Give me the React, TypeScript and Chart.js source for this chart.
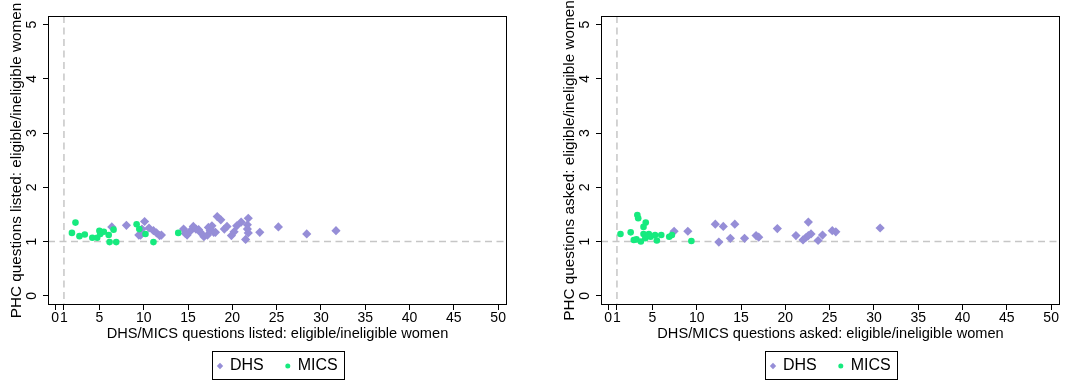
import React, { useEffect, useRef } from 'react';
import { Chart, registerables } from 'chart.js';

Chart.register(...registerables);

// ---------- data ----------
const seriesNames = ['DHS', 'MICS'];
const xTickValues = [0, 1, 5, 10, 15, 20, 25, 30, 35, 40, 45, 50];
const yTickValues = [0, 1, 2, 3, 4, 5];
const refX = 1;
const refY = 1;

const listedXTitle = 'DHS/MICS questions listed: eligible/ineligible women';
const listedYTitle = 'PHC questions listed: eligible/ineligible women';
const askedXTitle = 'DHS/MICS questions asked: eligible/ineligible women';
const askedYTitle = 'PHC questions asked: eligible/ineligible women';

const listedDHS: [number, number][] = [
  [6.4, 1.27], [8.05, 1.30], [9.45, 1.12], [9.65, 1.12], [9.8, 1.23], [10.1, 1.37], [10.6, 1.25], [11.1, 1.20],
  [11.45, 1.16], [11.8, 1.11], [12.0, 1.12],
  [14.5, 1.23], [14.7, 1.15], [14.9, 1.12], [15.3, 1.20], [15.6, 1.28], [15.9, 1.23], [16.2, 1.22],
  [16.4, 1.17], [16.8, 1.09], [17.2, 1.12], [17.3, 1.26], [17.5, 1.20], [17.7, 1.29], [17.9, 1.17],
  [18.1, 1.17], [18.3, 1.46], [18.7, 1.40], [19.1, 1.23], [19.4, 1.28], [19.9, 1.11], [20.2, 1.18],
  [20.5, 1.29], [21.0, 1.36], [21.8, 1.43], [21.7, 1.31], [21.7, 1.23], [21.8, 1.16], [21.5, 1.04],
  [23.1, 1.17], [25.2, 1.27], [28.4, 1.14], [31.7, 1.20],
];
const listedMICS: [number, number][] = [
  [1.9, 1.16], [2.3, 1.35], [2.75, 1.10], [3.35, 1.13], [4.2, 1.07], [4.75, 1.07], [5.0, 1.20],
  [5.1, 1.14], [5.5, 1.18], [6.05, 1.12], [6.6, 1.22], [6.15, 0.99], [6.9, 0.99], [9.2, 1.32],
  [9.5, 1.23], [10.2, 1.14], [11.1, 0.99], [13.9, 1.16],
];
const askedDHS: [number, number][] = [
  [7.45, 1.19], [9.0, 1.19], [12.1, 1.32], [13.0, 1.28], [14.3, 1.32], [12.5, 0.99], [13.8, 1.06],
  [15.4, 1.06], [16.7, 1.11], [17.0, 1.08], [19.1, 1.24], [21.2, 1.11], [22.6, 1.36], [22.0, 1.03],
  [22.3, 1.07], [22.6, 1.11], [22.9, 1.14], [23.7, 1.02], [24.2, 1.12], [25.3, 1.20], [25.7, 1.18],
  [30.7, 1.25],
];
const askedMICS: [number, number][] = [
  [1.4, 1.14], [2.55, 1.17], [3.3, 1.49], [3.4, 1.43], [4.25, 1.35], [4.0, 1.27], [2.9, 1.03],
  [3.2, 1.04], [3.7, 1.00], [4.0, 1.14], [4.2, 1.06], [4.6, 1.14], [4.8, 1.09], [5.3, 1.12],
  [5.5, 1.02], [6.0, 1.12], [6.9, 1.09], [7.2, 1.12], [9.4, 1.01],
];

// ---------- styles ----------
const FONT = '"Liberation Sans", Arial, Helvetica, sans-serif';
const DHS_COLOR = 'rgb(150,142,215)';
const MICS_COLOR = 'rgb(22,234,126)';
const REF_COLOR = '#c6c6c6';

const refLinesPlugin = {
  id: 'refLines',
  beforeDatasetsDraw(chart: any) {
    const { ctx, chartArea: ca, scales } = chart;
    const px = scales.x.getPixelForValue(refX);
    const py = scales.y.getPixelForValue(refY);
    ctx.save();
    ctx.strokeStyle = REF_COLOR;
    ctx.lineWidth = 1.5;
    ctx.setLineDash([7, 4.5]);
    ctx.beginPath();
    ctx.moveTo(px, ca.top);
    ctx.lineTo(px, ca.bottom);
    ctx.stroke();
    ctx.beginPath();
    ctx.moveTo(ca.left, py);
    ctx.lineTo(ca.right, py);
    ctx.stroke();
    ctx.restore();
  },
};

const frameLegendPlugin = {
  id: 'frameLegend',
  afterDraw(chart: any) {
    const { ctx, chartArea: ca } = chart;
    ctx.save();
    ctx.strokeStyle = '#000';
    ctx.lineWidth = 1;
    ctx.setLineDash([]);
    ctx.strokeRect(Math.round(ca.left) + 0.5, Math.round(ca.top) + 0.5,
      Math.round(ca.right - ca.left) - 1, Math.round(ca.bottom - ca.top) - 1);

    // legend
    ctx.font = `16px ${FONT}`;
    const ds = chart.data.datasets;
    const w0 = ctx.measureText(ds[0].label).width;
    const w1 = ctx.measureText(ds[1].label).width;
    const boxW = 8 + 10 + w0 + 24 + 10 + w1 + 6;
    const boxH = 28;
    const L = Math.round((ca.left + ca.right) / 2 - boxW / 2);
    const T = Math.round(ca.bottom + 46);
    ctx.strokeRect(L + 0.5, T + 0.5, Math.round(boxW), boxH);
    const cy = T + 15;
    const m1 = L + 8;
    ctx.fillStyle = ds[0].backgroundColor;
    ctx.beginPath();
    ctx.moveTo(m1, cy - 3.2);
    ctx.lineTo(m1 + 3.2, cy);
    ctx.lineTo(m1, cy + 3.2);
    ctx.lineTo(m1 - 3.2, cy);
    ctx.closePath();
    ctx.fill();
    ctx.fillStyle = '#000';
    ctx.textBaseline = 'middle';
    ctx.textAlign = 'left';
    const t1 = m1 + 10;
    ctx.fillText(ds[0].label, t1, cy);
    const m2 = t1 + w0 + 24;
    ctx.fillStyle = ds[1].backgroundColor;
    ctx.beginPath();
    ctx.arc(m2, cy, 2.5, 0, Math.PI * 2);
    ctx.fill();
    ctx.fillStyle = '#000';
    ctx.fillText(ds[1].label, m2 + 10, cy);
    ctx.restore();
  },
};

type Pt = [number, number];

function Panel({ dhs, mics, xTitle, yTitle, left }: { dhs: Pt[]; mics: Pt[]; xTitle: string; yTitle: string; left: number }) {
  const ref = useRef<HTMLCanvasElement | null>(null);
  useEffect(() => {
    if (!ref.current) return;
    const chart = new Chart(ref.current, {
      type: 'scatter',
      data: {
        datasets: [
          {
            label: seriesNames[0],
            data: dhs.map(([x, y]) => ({ x, y })),
            pointStyle: 'rectRot',
            pointRadius: 4.6,
            backgroundColor: DHS_COLOR,
            borderColor: DHS_COLOR,
            borderWidth: 0,
            order: 2,
          },
          {
            label: seriesNames[1],
            data: mics.map(([x, y]) => ({ x, y })),
            pointStyle: 'circle',
            pointRadius: 3.3,
            backgroundColor: MICS_COLOR,
            borderColor: MICS_COLOR,
            borderWidth: 0,
            order: 1,
          },
        ],
      },
      options: {
        animation: false,
        responsive: false,
        maintainAspectRatio: false,
        events: [],
        layout: { padding: { left: 0, top: 16, right: 21, bottom: 40 } },
        plugins: { legend: { display: false }, tooltip: { enabled: false } },
        scales: {
          x: {
            type: 'linear',
            min: -0.8,
            max: 51,
            afterBuildTicks: (s: any) => { s.ticks = xTickValues.map((v) => ({ value: v })); },
            afterFit: (s: any) => { s.height = 38; },
            ticks: {
              autoSkip: false, minRotation: 0, maxRotation: 0, padding: 0,
              color: '#000', font: { family: FONT, size: 14 },
            },
            grid: { display: true, drawOnChartArea: false, drawTicks: true, tickLength: 5, color: '#000', lineWidth: 1 },
            border: { display: false },
            title: { display: true, text: xTitle, color: '#000', font: { family: FONT, size: 14.6 }, padding: { top: 0, bottom: 0.6 } },
          },
          y: {
            type: 'linear',
            min: -0.17,
            max: 5.16,
            afterBuildTicks: (s: any) => { s.ticks = yTickValues.map((v) => ({ value: v })); },
            afterFit: (s: any) => { s.width = 48; },
            ticks: {
              autoSkip: false, minRotation: 90, maxRotation: 90, crossAlign: 'center', padding: 7,
              color: '#000', font: { family: FONT, size: 14 },
            },
            grid: { display: true, drawOnChartArea: false, drawTicks: true, tickLength: 5, color: '#000', lineWidth: 1 },
            border: { display: false },
            title: { display: true, text: yTitle, color: '#000', font: { family: FONT, size: 15.3 }, padding: { top: 7.5, bottom: 0 } },
          },
        },
      } as any,
      plugins: [refLinesPlugin, frameLegendPlugin],
    });
    return () => chart.destroy();
  }, []);
  return (
    <canvas
      ref={ref}
      width={528}
      height={383}
      style={{ position: 'absolute', left, top: 0, width: 528, height: 383, display: 'block' }}
    />
  );
}

export default function App() {
  return (
    <div style={{ position: 'absolute', left: 0, top: 0, width: 1081, height: 383, background: '#fff', overflow: 'hidden' }}>
      <Panel dhs={listedDHS} mics={listedMICS} xTitle={listedXTitle} yTitle={listedYTitle} left={0} />
      <Panel dhs={askedDHS} mics={askedMICS} xTitle={askedXTitle} yTitle={askedYTitle} left={553} />
    </div>
  );
}
